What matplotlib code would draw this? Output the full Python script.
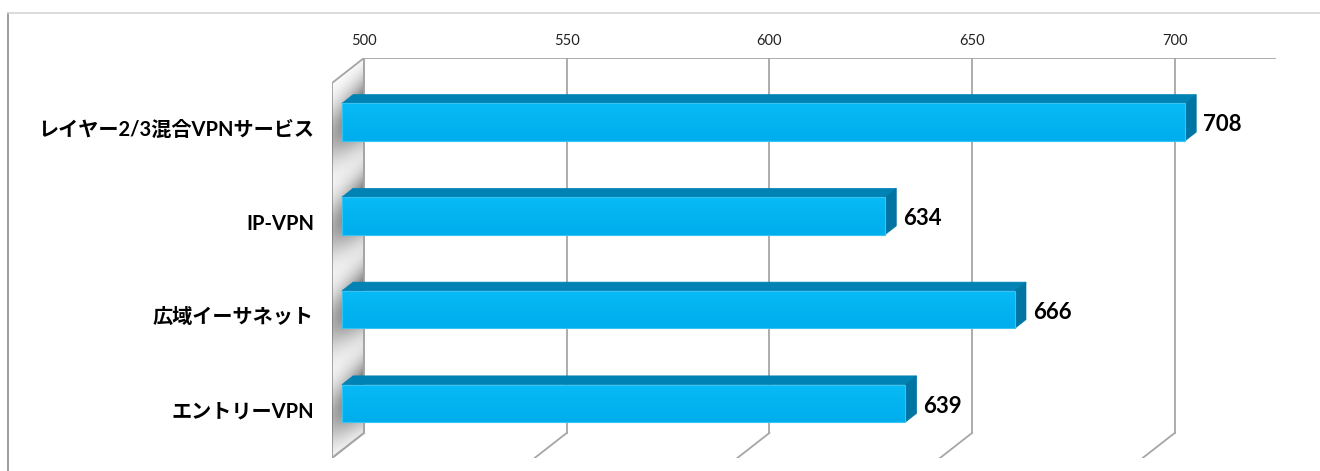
import numpy as np
import matplotlib.pyplot as plt
from matplotlib.patches import Polygon, Rectangle
from matplotlib.lines import Line2D

# data
categories = ['レイヤー2/3混合VPNサービス', 'IP-VPN', '広域イーサネット', 'エントリーVPN']
values = [708, 634, 666, 639]
ticks = [500, 550, 600, 650, 700]
x_min, x_max = 500, 725

plt.rcParams['font.family'] = ['Lato', 'Noto Sans CJK JP', 'DejaVu Sans']

W, H = 1320, 471
fig = plt.figure(figsize=(W / 100, H / 100), dpi=100)

# plot box (back wall + floor depth) in pixels
left_px, right_px, top_px, bottom_px = 332, 1276, 58, 458
depth_px = (32, 25)
ax = fig.add_axes([left_px / W, 1 - bottom_px / H,
                   (right_px - left_px) / W, (bottom_px - top_px) / H])

n = len(categories)
ux = (right_px - left_px - depth_px[0]) / (x_max - x_min)
uy = (bottom_px - top_px - depth_px[1]) / n
DX = -depth_px[0] / ux
DY = depth_px[1] / uy
for s in ax.spines.values():
    s.set_visible(False)
ax.set_yticks([])
ax.set_xticks(ticks)
ax.xaxis.set_ticks_position('top')
ax.tick_params(axis='x', length=0, pad=7, labelsize=10.5, labelcolor='#222222')

grid_c = '#a6a6a6'
y_top, y_bot = -0.5, n - 0.5

# left wall
wall = Polygon([(x_min, y_top), (x_min + DX, y_top + DY), (x_min + DX, y_bot + DY), (x_min, y_bot)],
               closed=True, facecolor='white', edgecolor=grid_c, lw=1.3, zorder=1)
ax.add_patch(wall)

# soft shadow of the bars on the wall
xs = np.linspace(x_min + DX, x_min, 60)
ys = np.linspace(y_top, y_bot + DY, 400)
X, Y = np.meshgrid(xs, ys)
f = (X - x_min) / DX
yb = Y - DY * f
a = np.zeros_like(X)
for i in range(n):
    a += np.exp(-((yb - i - 0.05) / 0.32) ** 2)
a = np.clip(a, 0, 1) * (0.45 + 0.5 * (1 - f))
shadow = np.zeros(X.shape + (4,))
shadow[..., :3] = 0.3
shadow[..., 3] = np.clip(a, 0, 0.9)
im = ax.imshow(shadow, extent=(x_min + DX, x_min, y_bot + DY, y_top), aspect='auto',
               interpolation='bilinear', zorder=1.5)
im.set_clip_path(wall)

# gridlines on back plane and floor
ax.plot([x_min, x_max], [y_top, y_top], color=grid_c, lw=1.3, zorder=2, solid_capstyle='butt')
for t in ticks:
    ax.plot([t, t], [y_top, y_bot], color=grid_c, lw=1.3, zorder=2)
    ax.plot([t, t + DX], [y_bot, y_bot + DY], color=grid_c, lw=1.3, zorder=2)

# bars
ff, fb = 0.69, 0.34
h = 0.4
grad = np.linspace(0, 1, 50)[:, None]
c_top = np.array([0.03, 0.73, 0.96])
c_bot = np.array([0.00, 0.68, 0.93])
front_img = np.zeros((50, 1, 3))
front_img[:, 0, :] = c_top * (1 - grad) + c_bot * grad

for i, v in enumerate(values):
    x0f, x1f = x_min + DX * ff, v + DX * ff
    x0b, x1b = x_min + DX * fb, v + DX * fb
    yt_f, yb_f = i - h / 2 + DY * ff, i + h / 2 + DY * ff
    yt_b, yb_b = i - h / 2 + DY * fb, i + h / 2 + DY * fb
    top = Polygon([(x0f, yt_f), (x1f, yt_f), (x1b, yt_b), (x0b, yt_b)],
                  closed=True, facecolor='#0082b4', edgecolor='#0082b4', lw=0.5, zorder=3)
    side = Polygon([(x1f, yt_f), (x1f, yb_f), (x1b, yb_b), (x1b, yt_b)],
                   closed=True, facecolor='#0074a3', edgecolor='#0074a3', lw=0.5, zorder=3)
    ax.add_patch(top)
    ax.add_patch(side)
    front = Rectangle((x0f, yt_f), x1f - x0f, yb_f - yt_f, facecolor='none',
                      edgecolor='#38c4f2', lw=0.8, zorder=4.5)
    ax.add_patch(front)
    fim = ax.imshow(front_img, extent=(x0f, x1f, yb_f, yt_f), aspect='auto',
                    interpolation='bilinear', zorder=4)
    fim.set_clip_path(front)
    ax.text(x1b + 7 / ux, i + DY * ff + 0.03, str(v), ha='left', va='center',
            fontsize=16, fontweight='bold', color='black', zorder=5)

ax.set_xlim(x_min + DX, x_max)
ax.set_ylim(n - 0.5 + DY, -0.5)

# category labels in front of the wall
for i, c in enumerate(categories):
    ax.text(x_min + DX - 18 / ux, i + DY, c, ha='right', va='center',
            fontsize=14.5, fontweight='bold', color='black',
            family=['Lato', 'Noto Sans CJK JP'])

# outer chart frame
fig.add_artist(Line2D([8 / W, 8 / W], [0, 1 - 13 / H], color='#8c8c8c', lw=1.2))
fig.add_artist(Line2D([8 / W, 1], [1 - 13 / H, 1 - 13 / H], color='#d4d4d4', lw=1.2))

fig.savefig('out.png', dpi=100)
